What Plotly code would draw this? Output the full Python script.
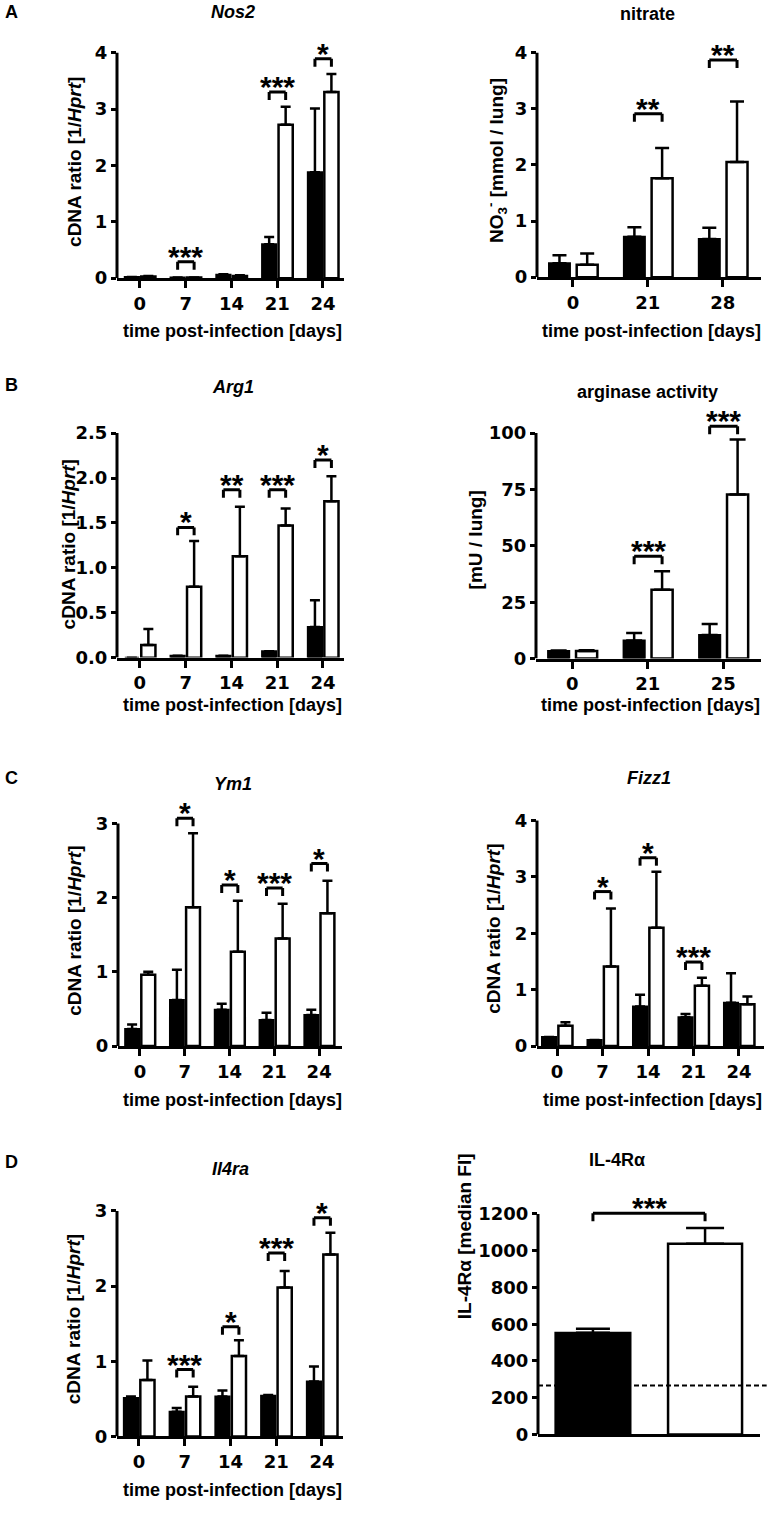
import plotly.graph_objects as go

W, H = 768, 1513
FONT = "Liberation Sans"
TICKFONT = "DejaVu Sans"

# ---------------- data ----------------
days_a = ["0", "7", "14", "21", "24"]

nos2_filled = [0.02, 0.01, 0.06, 0.60, 1.88]
nos2_filled_err = [0.0, 0.0, 0.01, 0.13, 1.13]
nos2_open = [0.03, 0.01, 0.04, 2.72, 3.30]
nos2_open_err = [0.01, 0.0, 0.01, 0.32, 0.32]
nos2_sig = ["", "***", "", "***", "*"]
nos2_brk = [None, 0.29, None, 3.30, 3.89]

days_nitrate = ["0", "21", "28"]
nitrate_filled = [0.25, 0.72, 0.68]
nitrate_filled_err = [0.14, 0.17, 0.20]
nitrate_open = [0.22, 1.76, 2.05]
nitrate_open_err = [0.20, 0.54, 1.08]
nitrate_sig = ["", "**", "**"]
nitrate_brk = [None, 2.91, 3.87]

arg1_filled = [0.0, 0.02, 0.02, 0.07, 0.34]
arg1_filled_err = [0.0, 0.0, 0.0, 0.0, 0.30]
arg1_open = [0.14, 0.79, 1.13, 1.47, 1.74]
arg1_open_err = [0.18, 0.51, 0.55, 0.19, 0.28]
arg1_sig = ["", "*", "**", "***", "*"]
arg1_brk = [None, 1.45, 1.87, 1.87, 2.20]

days_arginase = ["0", "21", "25"]
arginase_filled = [3.4, 8.0, 10.5]
arginase_filled_err = [0.2, 3.4, 4.9]
arginase_open = [3.4, 30.5, 72.8]
arginase_open_err = [0.3, 8.3, 24.4]
arginase_sig = ["", "***", "***"]
arginase_brk = [None, 45.4, 103.0]

ym1_filled = [0.23, 0.62, 0.49, 0.35, 0.42]
ym1_filled_err = [0.06, 0.41, 0.08, 0.10, 0.07]
ym1_open = [0.96, 1.87, 1.27, 1.45, 1.79]
ym1_open_err = [0.04, 1.00, 0.69, 0.47, 0.44]
ym1_sig = ["", "*", "*", "***", "*"]
ym1_brk = [None, 3.07, 2.17, 2.13, 2.46]

fizz1_filled = [0.16, 0.105, 0.70, 0.51, 0.77]
fizz1_filled_err = [0.0, 0.0, 0.21, 0.06, 0.52]
fizz1_open = [0.36, 1.41, 2.10, 1.07, 0.74]
fizz1_open_err = [0.06, 1.03, 0.99, 0.14, 0.14]
fizz1_sig = ["", "*", "*", "***", ""]
fizz1_brk = [None, 2.74, 3.34, 1.49, None]

il4ra_filled = [0.51, 0.33, 0.53, 0.54, 0.73]
il4ra_filled_err = [0.02, 0.05, 0.08, 0.01, 0.20]
il4ra_open = [0.75, 0.53, 1.07, 1.98, 2.42]
il4ra_open_err = [0.26, 0.13, 0.21, 0.22, 0.29]
il4ra_sig = ["", "***", "*", "***", "*"]
il4ra_brk = [None, 0.89, 1.46, 2.44, 2.91]

il4r_groups = ["filled", "open"]
il4r_mfi = [553, 1038]
il4r_mfi_err = [22, 85]
il4r_baseline = 266
il4r_sig = ["***"]
il4r_brk = [1203]

# ---------------- layout helpers ----------------
EXT = 0.10  # extra head room above the top tick (for brackets)
STAR_SIZE = 30
STAR_SHIFT = -13


def px_x(p):
    return p / W


def px_y(p):
    return 1 - p / H


fig = go.Figure()
annotations = []
shapes = []

BOLD = dict(family=FONT, size=18, color="black", weight="bold")
YTITLE = dict(family=FONT, size=19, color="black", weight="bold")
TICK = dict(family=TICKFONT, size=18, color="black", weight="bold")
STAR = dict(family=FONT, size=STAR_SIZE, color="black", weight="bold")


def add_panel(n, box, xrange, ymax, ydtick, cats, filled, filled_err, opened,
              opened_err, sig, brk, title, title_xy, ytitle, ytitle_xy,
              xtitle_y=None, geom=None, yfmt=None, cap=5):
    left, right, top, bottom = box
    ax = "" if n == 1 else str(n)
    xa, ya = "x" + ax, "y" + ax
    hgt = bottom - top
    top_ext = top - EXT * hgt
    f_off, f_w, o_off, o_w = geom
    xs = list(range(len(cats)))
    fig.add_trace(go.Bar(
        x=xs, y=filled, width=f_w, offset=f_off, xaxis=xa, yaxis=ya,
        marker=dict(color="black", line=dict(color="black", width=2)),
        error_y=dict(type="data", symmetric=False, array=filled_err,
                     arrayminus=[0] * len(xs), color="black", thickness=2.5,
                     width=cap),
        showlegend=False, hoverinfo="skip"))
    fig.add_trace(go.Bar(
        x=xs, y=opened, width=o_w, offset=o_off, xaxis=xa, yaxis=ya,
        marker=dict(color="white", line=dict(color="black", width=2.5)),
        error_y=dict(type="data", symmetric=False, array=opened_err,
                     arrayminus=[0] * len(xs), color="black", thickness=2.5,
                     width=cap),
        showlegend=False, hoverinfo="skip"))
    tickvals = []
    v = 0.0
    while v <= ymax + 1e-9:
        tickvals.append(round(v, 6))
        v += ydtick
    yaxis = dict(domain=[px_y(bottom), px_y(top_ext)], range=[0, ymax * (1 + EXT)],
                 anchor=xa, showline=False, showgrid=False, zeroline=False,
                 ticks="outside", ticklen=5, tickwidth=3, tickcolor="black",
                 tickvals=tickvals, tickfont=TICK, fixedrange=True)
    if yfmt:
        yaxis["tickformat"] = yfmt
    show_x = xtitle_y is not None
    xaxis = dict(domain=[px_x(left), px_x(right)], range=xrange, anchor=ya,
                 showline=True, linewidth=3, linecolor="black", showgrid=False,
                 zeroline=False, tickvals=xs, ticktext=cats,
                 ticks="outside" if show_x else "", ticklen=7, tickwidth=3,
                 tickcolor="black", showticklabels=show_x, tickfont=TICK,
                 fixedrange=True)
    fig.update_layout(**{("xaxis" + ax): xaxis, ("yaxis" + ax): yaxis})
    # y axis line up to top tick
    shapes.append(dict(type="line", xref=xa + " domain", yref=ya, x0=0, x1=0,
                       y0=0, y1=ymax, line=dict(color="black", width=3)))
    # significance brackets
    fc = f_off + f_w / 2
    oc = o_off + o_w / 2
    drop = ymax * 8.0 / hgt
    for i, (s, b) in enumerate(zip(sig, brk)):
        if not s:
            continue
        x0, x1 = i + fc, i + oc
        for (a0, b0, a1, b1) in [(x0, b, x1, b), (x0, b - drop, x0, b), (x1, b - drop, x1, b)]:
            shapes.append(dict(type="line", xref=xa, yref=ya, x0=a0, x1=a1, y0=b0, y1=b1,
                               line=dict(color="black", width=3)))
        annotations.append(dict(xref=xa, yref=ya, x=(x0 + x1) / 2, y=b, text=s,
                                showarrow=False, yanchor="bottom", yshift=STAR_SHIFT,
                                font=STAR))
    # titles
    annotations.append(dict(xref="paper", yref="paper", x=px_x(title_xy[0]), y=px_y(title_xy[1]),
                            text=title, showarrow=False, xanchor="center", yanchor="middle",
                            font=BOLD))
    annotations.append(dict(xref="paper", yref="paper", x=px_x(ytitle_xy[0]), y=px_y(ytitle_xy[1]),
                            text=ytitle, showarrow=False, textangle=-90, xanchor="center",
                            yanchor="middle", font=YTITLE))
    if show_x:
        annotations.append(dict(xref="paper", yref="paper", x=px_x((left + right) / 2 + 2),
                                y=px_y(xtitle_y), text="time post-infection [days]",
                                showarrow=False, xanchor="center", yanchor="middle",
                                font=BOLD))
    return xa, ya


G5 = (-0.33, 0.31, 0.03, 0.31)
G3 = (-0.32, 0.28, 0.05, 0.28)
YT = "cDNA ratio [1/<i>Hprt</i>]"

add_panel(1, (117, 344, 53, 280), [-0.5, 4.46], 4, 1, days_a, nos2_filled, nos2_filled_err,
          nos2_open, nos2_open_err, nos2_sig, nos2_brk, "<i>Nos2</i>", (233, 12), YT, (75, 163),
          333, G5, cap=5)
add_panel(2, (537, 761, 53, 279), [-0.48, 2.51], 4, 1, days_nitrate, nitrate_filled,
          nitrate_filled_err, nitrate_open, nitrate_open_err, nitrate_sig, nitrate_brk,
          "nitrate", (647, 14), "NO<sub>3</sub><sup>-</sup> [mmol / lung]", (497, 162),
          333, G3, cap=7)
add_panel(3, (117, 344, 436, 662), [-0.5, 4.46], 2.5, 0.5, days_a, arg1_filled, arg1_filled_err,
          arg1_open, arg1_open_err, arg1_sig, arg1_brk, "<i>Arg1</i>", (233, 390), YT, (68, 548),
          710, G5, yfmt=".1f", cap=5)
add_panel(4, (536, 761, 436, 663), [-0.48, 2.50], 100, 25, days_arginase, arginase_filled,
          arginase_filled_err, arginase_open, arginase_open_err, arginase_sig, arginase_brk,
          "arginase activity", (647, 395), "[mU / lung]", (475, 544), 710, G3, cap=8)
add_panel(5, (118, 342, 829, 1053), [-0.49, 4.51], 3, 1, days_a, ym1_filled, ym1_filled_err,
          ym1_open, ym1_open_err, ym1_sig, ym1_brk, "<i>Ym1</i>", (233, 789), YT, (75, 937),
          1107, G5, cap=5)
add_panel(6, (537, 764, 826, 1053), [-0.44, 4.55], 4, 1, days_a, fizz1_filled, fizz1_filled_err,
          fizz1_open, fizz1_open_err, fizz1_sig, fizz1_brk, "<i>Fizz1</i>", (649, 783), YT,
          (494, 935), 1107, G5, cap=5)
add_panel(7, (117, 343, 1219, 1446), [-0.48, 4.46], 3, 1, days_a, il4ra_filled, il4ra_filled_err,
          il4ra_open, il4ra_open_err, il4ra_sig, il4ra_brk, "<i>Il4ra</i>", (230, 1177), YT,
          (73, 1328), 1500, G5, cap=5)

# ---- panel D right: IL-4Ra MFI (two bars) ----
xa8, ya8 = "x8", "y8"
box8 = (538, 760, 1222, 1444)
ymax8 = 1200
hgt8 = box8[3] - box8[2]
fig.add_trace(go.Bar(x=[0], y=[il4r_mfi[0]], width=0.67, xaxis=xa8, yaxis=ya8,
                     marker=dict(color="black", line=dict(color="black", width=2)),
                     error_y=dict(type="data", symmetric=False, array=[il4r_mfi_err[0]],
                                  arrayminus=[0], color="black", thickness=2.5, width=17),
                     showlegend=False, hoverinfo="skip"))
fig.add_trace(go.Bar(x=[1], y=[il4r_mfi[1]], width=0.66, xaxis=xa8, yaxis=ya8,
                     marker=dict(color="white", line=dict(color="black", width=2.5)),
                     error_y=dict(type="data", symmetric=False, array=[il4r_mfi_err[1]],
                                  arrayminus=[0], color="black", thickness=2.5, width=19),
                     showlegend=False, hoverinfo="skip"))
fig.update_layout(
    xaxis8=dict(domain=[px_x(box8[0]), px_x(box8[1])], range=[-0.49, 1.49], anchor=ya8,
                showline=True, linewidth=3, linecolor="black", showgrid=False, zeroline=False,
                showticklabels=False, ticks="", fixedrange=True),
    yaxis8=dict(domain=[px_y(box8[3]), px_y(box8[2] - EXT * hgt8)], range=[0, ymax8 * (1 + EXT)],
                anchor=xa8, showline=False, showgrid=False, zeroline=False, ticks="outside",
                ticklen=5, tickwidth=3, tickcolor="black", tickvals=list(range(0, 1201, 200)),
                tickfont=TICK, fixedrange=True),
)
shapes.append(dict(type="line", xref=xa8 + " domain", yref=ya8, x0=0, x1=0, y0=0, y1=ymax8,
                   line=dict(color="black", width=3)))
shapes.append(dict(type="line", xref=xa8 + " domain", yref=ya8, x0=0, x1=1.03,
                   y0=il4r_baseline, y1=il4r_baseline,
                   line=dict(color="black", width=2, dash="5px,3px")))
drop8 = ymax8 * 8.0 / hgt8
b8 = il4r_brk[0]
for (a0, c0, a1, c1) in [(0, b8, 1, b8), (0, b8 - drop8, 0, b8), (1, b8 - drop8, 1, b8)]:
    shapes.append(dict(type="line", xref=xa8, yref=ya8, x0=a0, x1=a1, y0=c0, y1=c1,
                       line=dict(color="black", width=3)))
annotations.append(dict(xref=xa8, yref=ya8, x=0.5, y=b8, text=il4r_sig[0], showarrow=False,
                        yanchor="bottom", yshift=STAR_SHIFT, font=STAR))
annotations.append(dict(xref="paper", yref="paper", x=px_x(647), y=px_y(1180), text="IL-4Rα",
                        showarrow=False, font=BOLD))
annotations.append(dict(xref="paper", yref="paper", x=px_x(464), y=px_y(1330),
                        text="IL-4Rα [median FI]", showarrow=False, textangle=-90, font=YTITLE))

# panel letters
for letter, yy in [("A", 12), ("B", 388), ("C", 783), ("D", 1170)]:
    annotations.append(dict(xref="paper", yref="paper", x=px_x(3), y=px_y(yy), text=letter,
                            showarrow=False, xanchor="left", yanchor="middle", font=BOLD))

fig.update_layout(width=W, height=H, margin=dict(l=0, r=0, t=0, b=0),
                  paper_bgcolor="white", plot_bgcolor="white", barmode="overlay",
                  annotations=annotations, shapes=shapes, hovermode=False,
                  font=dict(family=FONT, color="black"))
fig.write_html("out.html", config={"displayModeBar": False, "staticPlot": True},
               post_script="document.body.style.margin='0';document.body.style.overflow='hidden';")
